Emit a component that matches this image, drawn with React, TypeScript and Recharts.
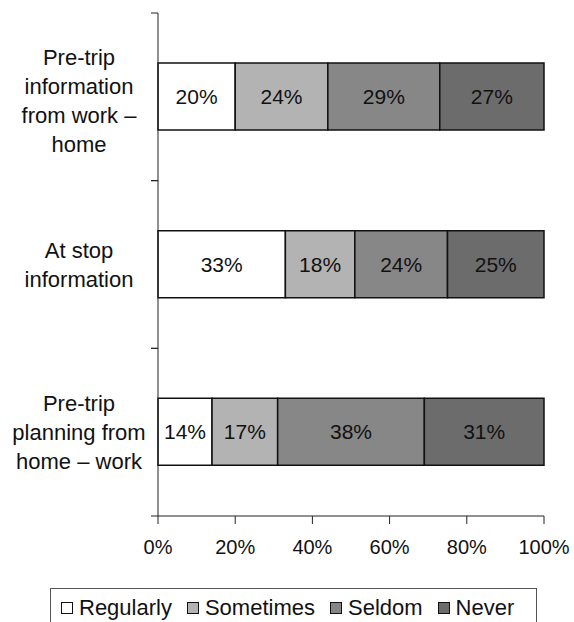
import { BarChart, Bar, XAxis, YAxis, LabelList } from 'recharts'

const categories = [
  'Pre-trip information from work – home',
  'At stop information',
  'Pre-trip planning from home – work'
]
const categoryLines = [
  ['Pre-trip', 'information', 'from work –', 'home'],
  ['At stop', 'information'],
  ['Pre-trip', 'planning from', 'home – work']
]
const regularly = [20, 33, 14]
const sometimes = [24, 18, 17]
const seldom = [29, 24, 38]
const never = [27, 25, 31]
const xTicks = [0, 20, 40, 60, 80, 100]

const series = [
  { key: 'Regularly', values: regularly, color: '#ffffff' },
  { key: 'Sometimes', values: sometimes, color: '#b3b3b3' },
  { key: 'Seldom', values: seldom, color: '#878787' },
  { key: 'Never', values: never, color: '#6c6c6c' }
]

const data = categories.map((name, i) => {
  const row: Record<string, any> = { name }
  series.forEach(s => { row[s.key] = s.values[i] })
  return row
})

const FONT = '"Liberation Sans", Arial, sans-serif'
const TOP = 13
const PLOT_BOTTOM = 516
const BAND = (PLOT_BOTTOM - TOP) / categories.length

function CategoryTick(props: any) {
  const { x, y, payload } = props
  const lines = categoryLines[payload.index] || [payload.value]
  const lh = 29
  // first label sits a little lower in the original
  const shift = lines.length === 4 ? 4 : 0
  const start = y + shift - ((lines.length - 1) * lh) / 2
  return (
    <g>
      <line x1={x + 1} x2={x + 8} y1={y - BAND / 2} y2={y - BAND / 2} stroke="#222" />
      <line x1={x + 1} x2={x + 8} y1={y + BAND / 2} y2={y + BAND / 2} stroke="#222" />
      <text textAnchor="middle" fontSize={22} fontFamily={FONT} fill="#111">
        {lines.map((l, i) => (
          <tspan key={i} x={79} y={start + i * lh} dy="0.36em">{l}</tspan>
        ))}
      </text>
    </g>
  )
}

export default function App() {
  return (
    <div style={{ position: 'absolute', left: 0, top: 0, width: 574, height: 622, background: '#fff', overflow: 'hidden' }}>
      <BarChart
        width={574}
        height={622}
        data={data}
        layout="vertical"
        margin={{ top: TOP, right: 30, left: 0, bottom: 56 }}
      >
        <XAxis
          type="number"
          domain={[0, 100]}
          ticks={xTicks}
          tickFormatter={(v: number) => v + '%'}
          height={50}
          tickSize={8}
          tickMargin={16}
          axisLine={{ stroke: '#222' }}
          tickLine={{ stroke: '#222' }}
          tick={{ fontSize: 20, fontFamily: FONT, fill: '#111' }}
          interval={0}
        />
        <YAxis
          type="category"
          dataKey="name"
          width={158}
          axisLine={{ stroke: '#222' }}
          tickLine={false}
          tick={<CategoryTick />}
          interval={0}
        />
        {series.map(s => (
          <Bar
            key={s.key}
            dataKey={s.key}
            stackId="a"
            fill={s.color}
            stroke="#111"
            strokeWidth={1.5}
            barSize={67}
            isAnimationActive={false}
          >
            <LabelList
              dataKey={s.key}
              position="center"
              formatter={(v: any) => v + '%'}
              style={{ fontSize: 21, fontFamily: FONT, fill: '#111' }}
            />
          </Bar>
        ))}
      </BarChart>
      <div
        style={{
          position: 'absolute',
          left: 50,
          top: 588,
          width: 487,
          height: 50,
          border: '1px solid #555',
          boxSizing: 'border-box',
          fontFamily: FONT,
          fontSize: 22,
          color: '#111',
          display: 'flex',
          alignItems: 'flex-start',
          paddingLeft: 10,
          paddingTop: 6
        }}
      >
        {series.map(s => (
          <div key={s.key} style={{ display: 'flex', alignItems: 'center', marginRight: 15, lineHeight: '26px' }}>
            <span style={{ display: 'inline-block', width: 10, height: 10, background: s.color, border: '1.5px solid #111', marginRight: 6 }} />
            {s.key}
          </div>
        ))}
      </div>
    </div>
  )
}
